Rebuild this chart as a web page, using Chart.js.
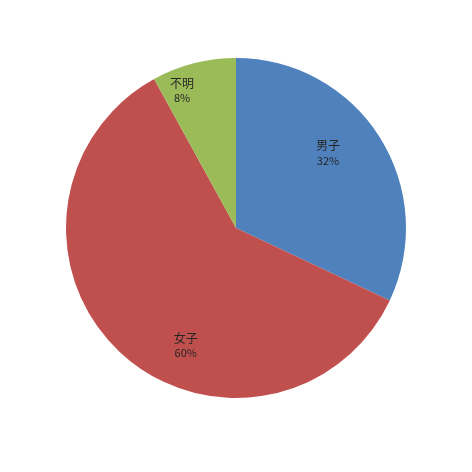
<!DOCTYPE html>
<html>
<head>
<meta charset="utf-8">
<script src="https://cdn.jsdelivr.net/npm/chart.js@4"></script>
<style>
  html, body { margin: 0; padding: 0; background: #fff; }
  #wrap { width: 472px; height: 472px; }
</style>
</head>
<body>
<div id="wrap"><canvas id="mainChart" width="472" height="472"></canvas></div>
<script>
const labels = ['男子', '女子', '不明'];
const values = [32, 60, 8];
const colors = ['#4F81BD', '#C0504D', '#9BBB59'];
// label placement: radius fraction and angle shift (deg) from slice middle
const labelPlace = [
    { r: 0.70, shift: -7 },
    { r: 0.75, shift: -20 },
    { r: 0.87, shift: -7 }
];

const sliceLabels = {
    id: 'sliceLabels',
    afterDatasetsDraw(chart) {
        const ctx = chart.ctx;
        const meta = chart.getDatasetMeta(0);
        const total = values.reduce((a, b) => a + b, 0);
        ctx.save();
        ctx.fillStyle = '#262626';
        ctx.textAlign = 'center';
        ctx.textBaseline = 'middle';
        meta.data.forEach((arc, i) => {
            const p = arc.getProps(['x', 'y', 'startAngle', 'endAngle', 'outerRadius'], true);
            const mid = (p.startAngle + p.endAngle) / 2 + labelPlace[i].shift * Math.PI / 180;
            const rr = p.outerRadius * labelPlace[i].r;
            const x = p.x + Math.cos(mid) * rr;
            const y = p.y + Math.sin(mid) * rr;
            ctx.font = '12px "Noto Sans CJK JP"';
            ctx.fillText(labels[i], x, y - 7);
            ctx.font = '11px "Noto Sans CJK JP"';
            ctx.fillText(Math.round(values[i] / total * 100) + '%', x, y + 8);
        });
        ctx.restore();
    }
};

new Chart(document.getElementById('mainChart'), {
    type: 'pie',
    data: {
        labels: labels,
        datasets: [{
            data: values,
            backgroundColor: colors,
            borderWidth: 0
        }]
    },
    options: {
        responsive: false,
        animation: false,
        layout: { padding: { top: 58, bottom: 74, left: 66, right: 66 } },
        plugins: {
            legend: { display: false },
            tooltip: { enabled: false }
        }
    },
    plugins: [sliceLabels]
});
</script>
</body>
</html>
